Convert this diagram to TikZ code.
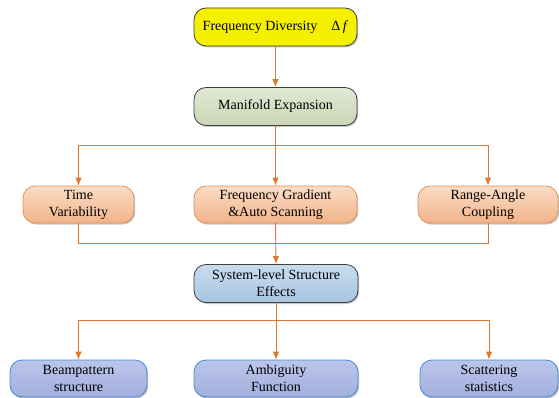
\documentclass[tikz,border=0pt]{standalone}
\usepackage{fontspec}
\setmainfont{Liberation Serif}
\usetikzlibrary{arrows.meta,shadows}
\definecolor{MXline}{HTML}{E0752C}
\definecolor{MXdark}{HTML}{3F3F3F}
\definecolor{MXyellow}{HTML}{F4F000}
\definecolor{MXsageT}{HTML}{E2E8D4}
\definecolor{MXsageB}{HTML}{CBD5B6}
\definecolor{MXpeachT}{HTML}{FADCC6}
\definecolor{MXpeachB}{HTML}{F2B48A}
\definecolor{MXpeachE}{HTML}{E49555}
\definecolor{MXskyT}{HTML}{C9DCEE}
\definecolor{MXskyB}{HTML}{A8C5E3}
\definecolor{MXlilacT}{HTML}{BCC6EC}
\definecolor{MXlilacB}{HTML}{A2AEDC}
\definecolor{MXlilacE}{HTML}{3F8AD4}

\begin{document}
\begin{tikzpicture}[
  x=1pt,y=-1pt,
  font=\rmfamily\fontsize{14}{17}\selectfont,
  line cap=round,line join=round,
  flow/.style={draw=MXline,line width=0.9pt,-{Latex[length=8pt,width=6.5pt]}},
  link/.style={draw=MXline,line width=0.9pt},
  box/.style={draw=MXdark,line width=0.8pt,rounded corners=12pt,align=center,
    inner sep=0pt,minimum height=38pt,
    drop shadow={shadow xshift=1.2pt,shadow yshift=-1.5pt,opacity=0.45}},
  topbox/.style={box,fill=MXyellow},
  sagebox/.style={box,top color=MXsageT,bottom color=MXsageB},
  peachbox/.style={box,draw=MXpeachE,top color=MXpeachT,bottom color=MXpeachB},
  skybox/.style={box,top color=MXskyT,bottom color=MXskyB},
  lilacbox/.style={box,draw=MXlilacE,top color=MXlilacT,bottom color=MXlilacB}
]
\useasboundingbox (0,0) rectangle (559,398);

% Source and expansion
\node[topbox,minimum width=163pt] (diversity) at (275.5,27) {Frequency Diversity\quad Δ\,\textit{f}};
\node[sagebox,minimum width=163pt] (manifold) at (275.5,106.5) {Manifold Expansion};

\draw[flow] (diversity.south) -- (manifold.north);

% Three mechanisms
\node[peachbox,minimum width=111pt,minimum height=37pt] (timevar) at (78.5,204.5) {Time\\Variability};
\node[peachbox,minimum width=163pt,minimum height=37pt] (gradient) at (275.5,204.5) {Frequency Gradient\\\&Auto Scanning};
\node[peachbox,minimum width=140pt,minimum height=37pt] (coupling) at (488,204.5) {Range-Angle\\Coupling};

\coordinate (split) at (275.5,145);
\draw[link] (manifold.south) -- (split);
\draw[flow] (split) -| (timevar.north);
\draw[flow] (split) -- (gradient.north);
\draw[flow] (split) -| (coupling.north);

% System level
\node[skybox,minimum width=164pt] (system) at (276,283.5) {System-level Structure\\Effects};

\coordinate (merge) at (275.5,243);
\draw[link] (timevar.south) |- (merge);
\draw[link] (coupling.south) |- (merge);
\draw[flow] (gradient.south) -- (system.north);

% Consequences
\node[lilacbox,minimum width=137pt,minimum height=37pt] (beam) at (78.5,378.5) {Beampattern\\structure};
\node[lilacbox,minimum width=164pt,minimum height=37pt] (ambiguity) at (276,378.5) {Ambiguity\\Function};
\node[lilacbox,minimum width=138pt,minimum height=37pt] (scatter) at (489,378.5) {Scattering\\statistics};

\coordinate (fork) at (276,320);
\draw[link] (system.south) -- (fork);
\draw[flow] (fork) -| (beam.north);
\draw[flow] (fork) -- (ambiguity.north);
\draw[flow] (fork) -| (scatter.north);

\end{tikzpicture}
\end{document}
